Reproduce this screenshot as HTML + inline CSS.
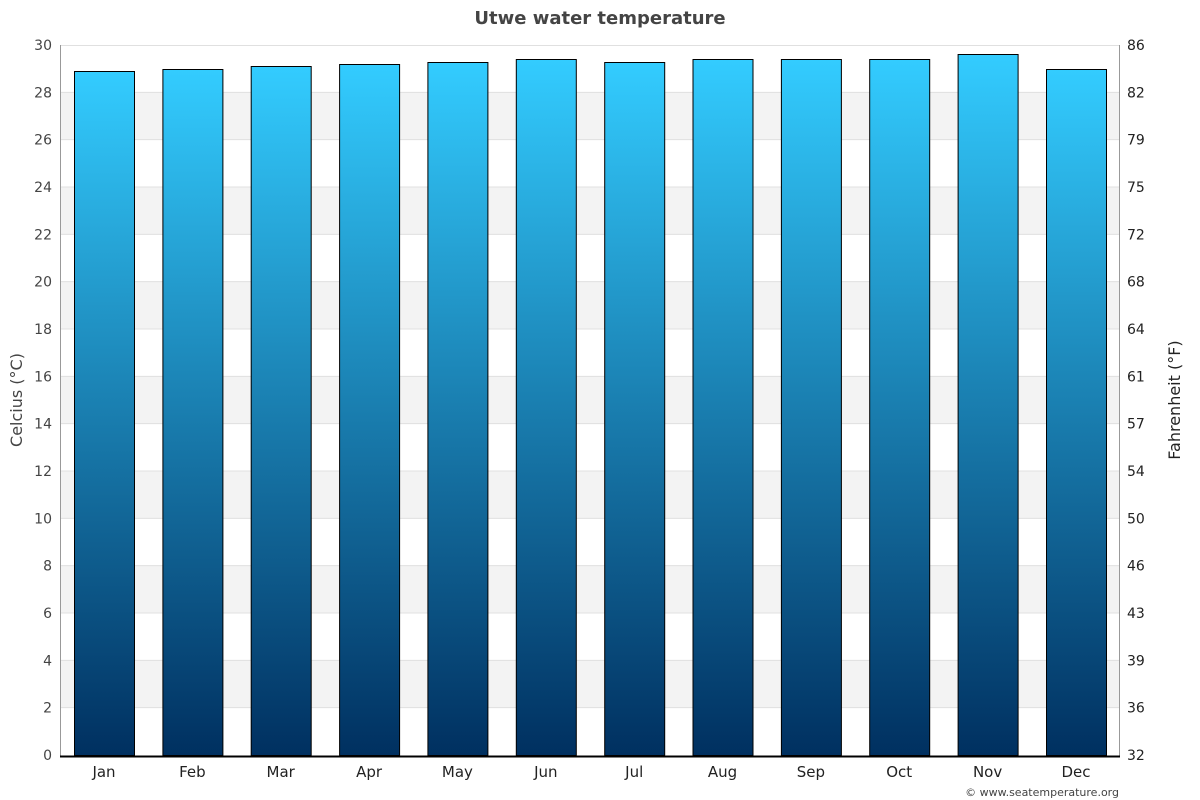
<!DOCTYPE html>
<html><head><meta charset="utf-8"><style>body{margin:0;background:#fff}svg{display:block;font-family:"DejaVu Sans","Liberation Sans",sans-serif}</style></head><body>
<svg width="1200" height="800" xmlns="http://www.w3.org/2000/svg">
<defs><linearGradient id="g" x1="0" y1="0" x2="0" y2="1"><stop offset="0" stop-color="#33ccff"/><stop offset="1" stop-color="#003060"/></linearGradient></defs>
<text x="600" y="24" text-anchor="middle" font-size="18" font-weight="bold" fill="#444">Utwe water temperature</text>
<g fill="#f3f3f3">
<rect x="60" y="660.33" width="1059" height="47.33"/>
<rect x="60" y="565.67" width="1059" height="47.33"/>
<rect x="60" y="471" width="1059" height="47.33"/>
<rect x="60" y="376.33" width="1059" height="47.33"/>
<rect x="60" y="281.67" width="1059" height="47.33"/>
<rect x="60" y="187" width="1059" height="47.33"/>
<rect x="60" y="92.33" width="1059" height="47.33"/>
</g>
<g stroke="#e0e0e0">
<line x1="60" x2="1119" y1="707.67" y2="707.67"/><line x1="60" x2="1119" y1="660.33" y2="660.33"/>
<line x1="60" x2="1119" y1="613" y2="613"/><line x1="60" x2="1119" y1="565.67" y2="565.67"/>
<line x1="60" x2="1119" y1="518.33" y2="518.33"/><line x1="60" x2="1119" y1="471" y2="471"/>
<line x1="60" x2="1119" y1="423.67" y2="423.67"/><line x1="60" x2="1119" y1="376.33" y2="376.33"/>
<line x1="60" x2="1119" y1="329" y2="329"/><line x1="60" x2="1119" y1="281.67" y2="281.67"/>
<line x1="60" x2="1119" y1="234.33" y2="234.33"/><line x1="60" x2="1119" y1="187" y2="187"/>
<line x1="60" x2="1119" y1="139.67" y2="139.67"/><line x1="60" x2="1119" y1="92.33" y2="92.33"/>
<line x1="60" x2="1119" y1="45.5" y2="45.5"/>
</g>
<g font-size="14" fill="#444" text-anchor="end">
<text x="52" y="760">0</text><text x="52" y="712.67">2</text><text x="52" y="665.33">4</text><text x="52" y="618">6</text>
<text x="52" y="570.67">8</text><text x="52" y="523.33">10</text><text x="52" y="476">12</text><text x="52" y="428.67">14</text>
<text x="52" y="381.33">16</text><text x="52" y="334">18</text><text x="52" y="286.67">20</text><text x="52" y="239.33">22</text>
<text x="52" y="192">24</text><text x="52" y="144.67">26</text><text x="52" y="97.33">28</text><text x="52" y="50">30</text>
</g>
<g font-size="14" fill="#222">
<text x="1127" y="760">32</text><text x="1127" y="712.67">36</text><text x="1127" y="665.33">39</text><text x="1127" y="618">43</text>
<text x="1127" y="570.67">46</text><text x="1127" y="523.33">50</text><text x="1127" y="476">54</text><text x="1127" y="428.67">57</text>
<text x="1127" y="381.33">61</text><text x="1127" y="334">64</text><text x="1127" y="286.67">68</text><text x="1127" y="239.33">72</text>
<text x="1127" y="192">75</text><text x="1127" y="144.67">79</text><text x="1127" y="97.33">82</text><text x="1127" y="50">86</text>
</g>
<g fill="url(#g)" stroke="#000" stroke-width="1">
<rect x="74.5" y="71.5" width="60" height="684"/>
<rect x="162.9" y="69.5" width="60" height="686"/>
<rect x="251.2" y="66.5" width="60" height="689"/>
<rect x="339.6" y="64.5" width="60" height="691"/>
<rect x="427.9" y="62.5" width="60" height="693"/>
<rect x="516.3" y="59.5" width="60" height="696"/>
<rect x="604.7" y="62.5" width="60" height="693"/>
<rect x="693" y="59.5" width="60" height="696"/>
<rect x="781.4" y="59.5" width="60" height="696"/>
<rect x="869.7" y="59.5" width="60" height="696"/>
<rect x="958.1" y="54.5" width="60" height="701"/>
<rect x="1046.5" y="69.5" width="60" height="686"/>
</g>
<g font-size="15" fill="#222" text-anchor="middle">
<text x="104" y="777">Jan</text><text x="192.4" y="777">Feb</text><text x="280.7" y="777">Mar</text><text x="369.1" y="777">Apr</text>
<text x="457.4" y="777">May</text><text x="545.8" y="777">Jun</text><text x="634.2" y="777">Jul</text><text x="722.5" y="777">Aug</text>
<text x="810.9" y="777">Sep</text><text x="899.2" y="777">Oct</text><text x="987.6" y="777">Nov</text><text x="1076" y="777">Dec</text>
</g>
<line x1="60.5" x2="60.5" y1="45" y2="756" stroke="#999"/>
<line x1="1119.5" x2="1119.5" y1="45" y2="756" stroke="#999"/>
<line x1="60" x2="1120" y1="756.5" y2="756.5" stroke="#000" stroke-width="2"/>
<text transform="translate(22,400) rotate(-90)" text-anchor="middle" font-size="16" fill="#444">Celcius (°C)</text>
<text transform="translate(1180,400) rotate(-90)" text-anchor="middle" font-size="16" fill="#222">Fahrenheit (°F)</text>
<text x="1119" y="796" text-anchor="end" font-size="11" fill="#444">© www.seatemperature.org</text>
</svg>
</body></html>
